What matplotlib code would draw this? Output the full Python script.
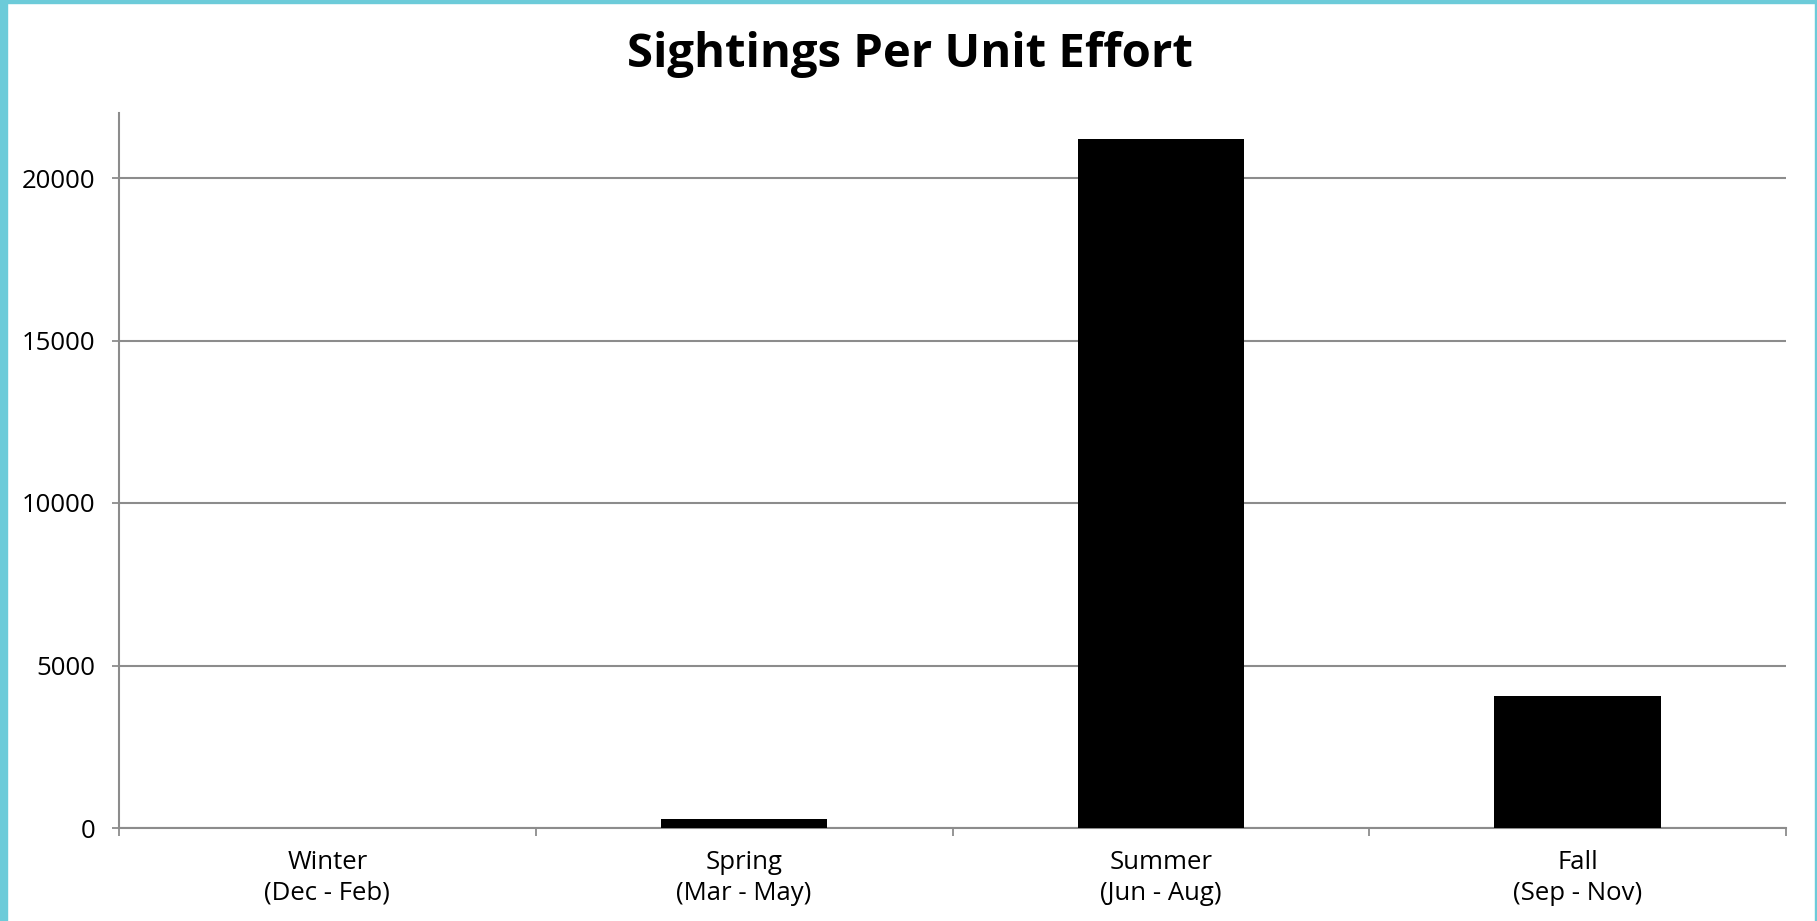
import matplotlib
matplotlib.use("Agg")
import matplotlib.pyplot as plt
from matplotlib.patches import Rectangle

# seasonal sightings per unit effort
seasons = ["Winter\n(Dec - Feb)", "Spring\n(Mar - May)", "Summer\n(Jun - Aug)", "Fall\n(Sep - Nov)"]
spue = [0, 280, 21200, 4070]
yticks = [0, 5000, 10000, 15000, 20000]

plt.rcParams["font.family"] = ["Open Sans", "DejaVu Sans"]

W, H = 1817, 921
fig = plt.figure(figsize=(W / 100, H / 100), dpi=100)
ax = fig.add_axes([119 / W, 1 - 828 / H, (1786 - 119) / W, (828 - 113) / H])

grey = "#8c8c8c"
x = range(len(seasons))
ax.bar(x, spue, width=0.4, color="black", zorder=3)

ax.set_xlim(-0.5, len(seasons) - 0.5)
ax.set_ylim(0, 22000)

ax.set_yticks(yticks)
ax.set_yticklabels([str(v) for v in yticks], fontsize=18.5)
ax.yaxis.grid(True, color=grey, linewidth=1.5, zorder=0)
ax.tick_params(axis="y", length=5, width=1.3, color=grey, pad=12)

# separator ticks between seasons, labels sit on the minor ticks
ax.set_xticks([i - 0.5 for i in range(len(seasons) + 1)])
ax.set_xticklabels([])
ax.set_xticks(list(x), minor=True)
ax.set_xticklabels(seasons, minor=True, fontsize=18.5, linespacing=1.3)
ax.tick_params(axis="x", which="major", length=6, width=1.3, color=grey)
ax.tick_params(axis="x", which="minor", length=0, pad=16)

for side in ["top", "right"]:
    ax.spines[side].set_visible(False)
for side in ["left", "bottom"]:
    ax.spines[side].set_color(grey)
    ax.spines[side].set_linewidth(1.5)

fig.text(910 / W, 1 - 55 / H, "Sightings Per Unit Effort", ha="center", va="center",
         fontsize=34, fontweight="bold")

# cyan frame on left, top and right edges
cyan = "#6ccbd9"
fig.patches.append(Rectangle((0, 0), 7 / W, 1, transform=fig.transFigure, color=cyan))
fig.patches.append(Rectangle((0, 1 - 3 / H), 1, 3 / H, transform=fig.transFigure, color=cyan))
fig.patches.append(Rectangle((1 - 2 / W, 0), 2 / W, 1, transform=fig.transFigure, color=cyan))

fig.savefig("out.png", dpi=100)
